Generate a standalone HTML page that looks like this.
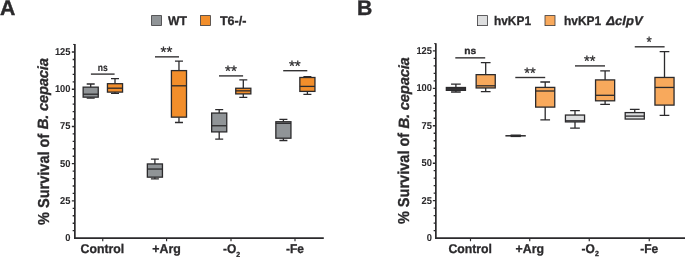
<!DOCTYPE html>
<html><head><meta charset="utf-8"><title>Figure</title>
<style>html,body{margin:0;padding:0;background:#fff}svg{display:block;will-change:transform;text-rendering:geometricPrecision}</style></head>
<body>
<svg width="685" height="257" viewBox="0 0 685 257" font-family="Liberation Sans, sans-serif" fill="#2b2a2c">
<rect width="685" height="257" fill="#fff"/>
<path d="M74.85 44.00V238.85M74.10 238.10H323.80" stroke="#2b2a2c" stroke-width="1.7" fill="none"/>
<path d="M73.05 44.45H74.85" stroke="#2b2a2c" stroke-width="0.9"/>
<path d="M72.65 230.66H74.85M72.65 223.22H74.85M72.65 215.77H74.85M72.65 208.33H74.85M71.85 200.89H74.85M72.65 193.44H74.85M72.65 186.00H74.85M72.65 178.56H74.85M72.65 171.12H74.85M71.85 163.68H74.85M72.65 156.23H74.85M72.65 148.79H74.85M72.65 141.35H74.85M72.65 133.91H74.85M71.85 126.46H74.85M72.65 119.02H74.85M72.65 111.58H74.85M72.65 104.13H74.85M72.65 96.69H74.85M71.85 89.25H74.85M72.65 81.81H74.85M72.65 74.37H74.85M72.65 66.92H74.85M72.65 59.48H74.85M71.85 52.04H74.85" stroke="#2b2a2c" stroke-width="1.35" fill="none"/>
<path d="M102.75 238.10V241.30M166.60 238.10V241.30M231.00 238.10V241.30M295.00 238.10V241.30" stroke="#2b2a2c" stroke-width="1.15" fill="none"/>
<text x="54.90" y="54.89" font-size="10" font-weight="bold" stroke="#2b2a2c" stroke-width="0.05" textLength="15.60" lengthAdjust="spacingAndGlyphs">125</text>
<text x="54.90" y="92.10" font-size="10" font-weight="bold" stroke="#2b2a2c" stroke-width="0.05" textLength="15.60" lengthAdjust="spacingAndGlyphs">100</text>
<text x="60.10" y="129.31" font-size="10" font-weight="bold" stroke="#2b2a2c" stroke-width="0.05" textLength="10.40" lengthAdjust="spacingAndGlyphs">75</text>
<text x="60.10" y="166.53" font-size="10" font-weight="bold" stroke="#2b2a2c" stroke-width="0.05" textLength="10.40" lengthAdjust="spacingAndGlyphs">50</text>
<text x="60.10" y="203.74" font-size="10" font-weight="bold" stroke="#2b2a2c" stroke-width="0.05" textLength="10.40" lengthAdjust="spacingAndGlyphs">25</text>
<text x="65.30" y="240.95" font-size="10" font-weight="bold" stroke="#2b2a2c" stroke-width="0.05" textLength="5.20" lengthAdjust="spacingAndGlyphs">0</text>
<path d="M90.70 84.00V87.15M86.70 84.00H94.70M90.70 97.15V98.20M86.70 98.20H94.70" stroke="#2b2a2c" stroke-width="1.3" fill="none"/>
<rect x="83.15" y="87.15" width="15.10" height="10.00" fill="#909497" stroke="#2b2a2c" stroke-width="1.3"/>
<path d="M83.15 94.20H98.25" stroke="#2b2a2c" stroke-width="1.3" fill="none"/>
<path d="M115.00 78.60V83.70M111.00 78.60H119.00M115.00 92.10V93.40M111.00 93.40H119.00" stroke="#2b2a2c" stroke-width="1.3" fill="none"/>
<rect x="107.45" y="83.70" width="15.10" height="8.40" fill="#f28e2b" stroke="#2b2a2c" stroke-width="1.3"/>
<path d="M107.45 88.20H122.55" stroke="#2b2a2c" stroke-width="1.3" fill="none"/>
<path d="M154.90 159.10V163.95M150.90 159.10H158.90M154.90 177.15V178.90M150.90 178.90H158.90" stroke="#2b2a2c" stroke-width="1.3" fill="none"/>
<rect x="147.35" y="163.95" width="15.10" height="13.20" fill="#909497" stroke="#2b2a2c" stroke-width="1.3"/>
<path d="M147.35 169.05H162.45" stroke="#2b2a2c" stroke-width="1.3" fill="none"/>
<path d="M178.97 61.10V70.60M174.97 61.10H182.97M178.97 117.15V122.50M174.97 122.50H182.97" stroke="#2b2a2c" stroke-width="1.3" fill="none"/>
<rect x="171.42" y="70.60" width="15.10" height="46.55" fill="#f28e2b" stroke="#2b2a2c" stroke-width="1.3"/>
<path d="M171.42 85.80H186.52" stroke="#2b2a2c" stroke-width="1.3" fill="none"/>
<path d="M219.20 109.60V113.05M215.20 109.60H223.20M219.20 131.90V139.05M215.20 139.05H223.20" stroke="#2b2a2c" stroke-width="1.3" fill="none"/>
<rect x="211.65" y="113.05" width="15.10" height="18.85" fill="#909497" stroke="#2b2a2c" stroke-width="1.3"/>
<path d="M211.65 125.75H226.75" stroke="#2b2a2c" stroke-width="1.3" fill="none"/>
<path d="M243.30 79.96V88.25M239.30 79.96H247.30M243.30 93.90V97.30M239.30 97.30H247.30" stroke="#2b2a2c" stroke-width="1.3" fill="none"/>
<rect x="235.75" y="88.25" width="15.10" height="5.65" fill="#f28e2b" stroke="#2b2a2c" stroke-width="1.3"/>
<path d="M235.75 90.85H250.85" stroke="#2b2a2c" stroke-width="1.3" fill="none"/>
<path d="M283.40 119.45V121.75M279.40 119.45H287.40M283.40 138.20V140.50M279.40 140.50H287.40" stroke="#2b2a2c" stroke-width="1.3" fill="none"/>
<rect x="275.85" y="121.75" width="15.10" height="16.45" fill="#909497" stroke="#2b2a2c" stroke-width="1.3"/>
<path d="M275.85 123.30H290.95" stroke="#2b2a2c" stroke-width="1.3" fill="none"/>
<path d="M307.40 76.60V77.50M303.40 76.60H311.40M307.40 91.40V94.40M303.40 94.40H311.40" stroke="#2b2a2c" stroke-width="1.3" fill="none"/>
<rect x="299.85" y="77.50" width="15.10" height="13.90" fill="#f28e2b" stroke="#2b2a2c" stroke-width="1.3"/>
<path d="M299.85 86.40H314.95" stroke="#2b2a2c" stroke-width="1.3" fill="none"/>
<text x="97.70" y="71.00" font-size="10" textLength="10.00" lengthAdjust="spacingAndGlyphs" stroke="#2b2a2c" stroke-width="0.15" font-weight="bold">ns</text><path d="M90.90 74.10H114.60" stroke="#333233" stroke-width="1.4"/>
<text x="160.50" y="57.20" font-size="15" textLength="11.80" lengthAdjust="spacingAndGlyphs" stroke="#2b2a2c" stroke-width="0.25">**</text><path d="M155.00 56.85H179.00" stroke="#333233" stroke-width="1.4"/>
<text x="225.00" y="76.20" font-size="15" textLength="11.80" lengthAdjust="spacingAndGlyphs" stroke="#2b2a2c" stroke-width="0.25">**</text><path d="M219.00 75.90H243.10" stroke="#333233" stroke-width="1.4"/>
<text x="288.90" y="71.20" font-size="15" textLength="11.80" lengthAdjust="spacingAndGlyphs" stroke="#2b2a2c" stroke-width="0.25">**</text><path d="M283.20 70.70H307.30" stroke="#333233" stroke-width="1.4"/>
<text x="80.60" y="252.90" font-size="12.7" font-weight="bold" stroke="#2b2a2c" stroke-width="0.3" textLength="43.60" lengthAdjust="spacingAndGlyphs">Control</text>
<text x="152.30" y="252.90" font-size="12.7" font-weight="bold" stroke="#2b2a2c" stroke-width="0.3" textLength="28.50" lengthAdjust="spacingAndGlyphs">+Arg</text>
<text x="222.9" y="252.9" font-size="12.7" font-weight="bold" stroke="#2b2a2c" stroke-width="0.3" textLength="17.2" lengthAdjust="spacingAndGlyphs">-O<tspan font-size="7.4" dy="3.9">2</tspan></text>
<text x="286.00" y="252.90" font-size="12.7" font-weight="bold" stroke="#2b2a2c" stroke-width="0.3" textLength="18.00" lengthAdjust="spacingAndGlyphs">-Fe</text>
<text transform="translate(48.5,225.0) rotate(-90)" font-size="15.8" font-weight="bold" stroke="#2b2a2c" stroke-width="0.3" textLength="91.3" lengthAdjust="spacingAndGlyphs">% Survival of</text><text transform="translate(48.3,129.30) rotate(-90)" font-size="14.8" font-weight="bold" font-style="italic" stroke="#2b2a2c" stroke-width="0.3" textLength="71.2" lengthAdjust="spacing">B. cepacia</text>
<rect x="151.6" y="15.6" width="9.9" height="9.9" fill="#909497" stroke="#3a393b" stroke-width="0.8"/>
<text x="168.10" y="25.05" font-size="12.6" font-weight="bold" stroke="#2b2a2c" stroke-width="0.3" textLength="19.00" lengthAdjust="spacingAndGlyphs">WT</text>
<rect x="200.5" y="15.6" width="9.9" height="9.9" fill="#f28e2b" stroke="#3a393b" stroke-width="0.8"/>
<text x="219.90" y="25.05" font-size="12.6" font-weight="bold" stroke="#2b2a2c" stroke-width="0.3" textLength="26.50" lengthAdjust="spacingAndGlyphs">T6-/-</text>
<text x="0.00" y="15.00" font-size="21.2" font-weight="bold" stroke="#2b2a2c" stroke-width="0.45">A</text>
<path d="M435.85 43.20V238.85M435.10 238.10H685.00" stroke="#2b2a2c" stroke-width="1.7" fill="none"/>
<path d="M434.05 43.65H435.85" stroke="#2b2a2c" stroke-width="0.9"/>
<path d="M433.65 230.61H435.85M433.65 223.12H435.85M433.65 215.63H435.85M433.65 208.14H435.85M432.85 200.65H435.85M433.65 193.16H435.85M433.65 185.67H435.85M433.65 178.18H435.85M433.65 170.69H435.85M432.85 163.20H435.85M433.65 155.71H435.85M433.65 148.22H435.85M433.65 140.73H435.85M433.65 133.24H435.85M432.85 125.75H435.85M433.65 118.26H435.85M433.65 110.77H435.85M433.65 103.28H435.85M433.65 95.79H435.85M432.85 88.30H435.85M433.65 80.81H435.85M433.65 73.32H435.85M433.65 65.83H435.85M433.65 58.34H435.85M432.85 50.85H435.85" stroke="#2b2a2c" stroke-width="1.35" fill="none"/>
<path d="M470.50 238.10V241.30M529.75 238.10V241.30M589.25 238.10V241.30M649.25 238.10V241.30" stroke="#2b2a2c" stroke-width="1.15" fill="none"/>
<text x="416.40" y="53.95" font-size="10" font-weight="bold" stroke="#2b2a2c" stroke-width="0.05" textLength="15.60" lengthAdjust="spacingAndGlyphs">125</text>
<text x="416.40" y="91.40" font-size="10" font-weight="bold" stroke="#2b2a2c" stroke-width="0.05" textLength="15.60" lengthAdjust="spacingAndGlyphs">100</text>
<text x="421.60" y="128.85" font-size="10" font-weight="bold" stroke="#2b2a2c" stroke-width="0.05" textLength="10.40" lengthAdjust="spacingAndGlyphs">75</text>
<text x="421.60" y="166.30" font-size="10" font-weight="bold" stroke="#2b2a2c" stroke-width="0.05" textLength="10.40" lengthAdjust="spacingAndGlyphs">50</text>
<text x="421.60" y="203.75" font-size="10" font-weight="bold" stroke="#2b2a2c" stroke-width="0.05" textLength="10.40" lengthAdjust="spacingAndGlyphs">25</text>
<text x="426.80" y="241.20" font-size="10" font-weight="bold" stroke="#2b2a2c" stroke-width="0.05" textLength="5.20" lengthAdjust="spacingAndGlyphs">0</text>
<path d="M455.90 84.20V87.50M451.05 84.20H460.75M455.90 90.35V92.00M451.05 92.00H460.75" stroke="#2b2a2c" stroke-width="1.3" fill="none"/>
<rect x="446.35" y="87.50" width="19.10" height="2.85" fill="#454446" stroke="#2b2a2c" stroke-width="1.3"/>
<path d="M446.35 88.90H465.45" stroke="#2b2a2c" stroke-width="1.3" fill="none"/>
<path d="M485.70 62.70V74.65M480.85 62.70H490.55M485.70 87.95V91.70M480.85 91.70H490.55" stroke="#2b2a2c" stroke-width="1.3" fill="none"/>
<rect x="476.15" y="74.65" width="19.10" height="13.30" fill="#f8a95c" stroke="#2b2a2c" stroke-width="1.3"/>
<path d="M476.15 85.80H495.25" stroke="#2b2a2c" stroke-width="1.3" fill="none"/>
<path d="M545.20 82.00V87.40M540.35 82.00H550.05M545.20 107.10V119.85M540.35 119.85H550.05" stroke="#2b2a2c" stroke-width="1.3" fill="none"/>
<rect x="535.65" y="87.40" width="19.10" height="19.70" fill="#f8a95c" stroke="#2b2a2c" stroke-width="1.3"/>
<path d="M535.65 91.00H554.75" stroke="#2b2a2c" stroke-width="1.3" fill="none"/>
<path d="M575.00 110.70V115.05M570.15 110.70H579.85M575.00 121.90V128.20M570.15 128.20H579.85" stroke="#2b2a2c" stroke-width="1.3" fill="none"/>
<rect x="565.45" y="115.05" width="19.10" height="6.85" fill="#dddedf" stroke="#2b2a2c" stroke-width="1.3"/>
<path d="M565.45 120.80H584.55" stroke="#2b2a2c" stroke-width="1.3" fill="none"/>
<path d="M605.10 70.95V79.90M600.25 70.95H609.95M605.10 100.80V104.35M600.25 104.35H609.95" stroke="#2b2a2c" stroke-width="1.3" fill="none"/>
<rect x="595.55" y="79.90" width="19.10" height="20.90" fill="#f8a95c" stroke="#2b2a2c" stroke-width="1.3"/>
<path d="M595.55 95.30H614.65" stroke="#2b2a2c" stroke-width="1.3" fill="none"/>
<path d="M634.75 109.45V112.60M629.90 109.45H639.60" stroke="#2b2a2c" stroke-width="1.3" fill="none"/>
<rect x="625.20" y="112.60" width="19.10" height="6.45" fill="#dddedf" stroke="#2b2a2c" stroke-width="1.3"/>
<path d="M625.20 116.10H644.30" stroke="#2b2a2c" stroke-width="1.3" fill="none"/>
<path d="M664.50 51.70V77.45M659.65 51.70H669.35M664.50 105.10V115.40M659.65 115.40H669.35" stroke="#2b2a2c" stroke-width="1.3" fill="none"/>
<rect x="654.95" y="77.45" width="19.10" height="27.65" fill="#f8a95c" stroke="#2b2a2c" stroke-width="1.3"/>
<path d="M654.95 87.45H674.05" stroke="#2b2a2c" stroke-width="1.3" fill="none"/>
<path d="M505.4 135.8H525.8" stroke="#2b2a2c" stroke-width="1.5"/><path d="M510.6 135.8H520.9" stroke="#2b2a2c" stroke-width="2.6"/>
<text x="464.20" y="54.00" font-size="9.8" textLength="11.90" lengthAdjust="spacingAndGlyphs" stroke="#2b2a2c" stroke-width="0.3" font-weight="bold">ns</text><path d="M455.30 57.85H485.20" stroke="#333233" stroke-width="1.4"/>
<text x="524.20" y="77.60" font-size="15" textLength="11.40" lengthAdjust="spacingAndGlyphs" stroke="#2b2a2c" stroke-width="0.25">**</text><path d="M515.30 77.50H545.20" stroke="#333233" stroke-width="1.4"/>
<text x="584.00" y="65.60" font-size="15" textLength="11.40" lengthAdjust="spacingAndGlyphs" stroke="#2b2a2c" stroke-width="0.25">**</text><path d="M575.00 65.90H605.00" stroke="#333233" stroke-width="1.4"/>
<text x="646.40" y="47.30" font-size="15" textLength="5.20" lengthAdjust="spacingAndGlyphs" stroke="#2b2a2c" stroke-width="0.25">*</text><path d="M634.75 46.80H664.60" stroke="#333233" stroke-width="1.4"/>
<text x="448.40" y="252.50" font-size="12.7" font-weight="bold" stroke="#2b2a2c" stroke-width="0.3" textLength="43.60" lengthAdjust="spacingAndGlyphs">Control</text>
<text x="515.60" y="252.50" font-size="12.7" font-weight="bold" stroke="#2b2a2c" stroke-width="0.3" textLength="28.40" lengthAdjust="spacingAndGlyphs">+Arg</text>
<text x="581.6" y="252.5" font-size="12.7" font-weight="bold" stroke="#2b2a2c" stroke-width="0.3" textLength="17.2" lengthAdjust="spacingAndGlyphs">-O<tspan font-size="7.4" dy="3.9">2</tspan></text>
<text x="640.20" y="252.50" font-size="12.7" font-weight="bold" stroke="#2b2a2c" stroke-width="0.3" textLength="18.00" lengthAdjust="spacingAndGlyphs">-Fe</text>
<text transform="translate(409.1,224.1) rotate(-90)" font-size="15.8" font-weight="bold" stroke="#2b2a2c" stroke-width="0.3" textLength="91.3" lengthAdjust="spacingAndGlyphs">% Survival of</text><text transform="translate(408.90000000000003,128.40) rotate(-90)" font-size="14.8" font-weight="bold" font-style="italic" stroke="#2b2a2c" stroke-width="0.3" textLength="71.2" lengthAdjust="spacing">B. cepacia</text>
<rect x="477.4" y="15.6" width="10" height="10" fill="#dddedf" stroke="#3a393b" stroke-width="0.8"/>
<text x="494.00" y="25.05" font-size="12.6" font-weight="bold" stroke="#2b2a2c" stroke-width="0.3" textLength="37.00" lengthAdjust="spacingAndGlyphs">hvKP1</text>
<rect x="545" y="15.6" width="10" height="10" fill="#f8a95c" stroke="#3a393b" stroke-width="0.8"/>
<text x="564.00" y="25.05" font-size="12.6" font-weight="bold" stroke="#2b2a2c" stroke-width="0.3" textLength="37.20" lengthAdjust="spacingAndGlyphs">hvKP1</text>
<text x="606.3" y="25.05" font-size="12.6" font-weight="bold" font-style="italic" stroke="#2b2a2c" stroke-width="0.3" textLength="36.3" lengthAdjust="spacingAndGlyphs">ΔclpV</text>
<text x="357.10" y="15.00" font-size="21.2" font-weight="bold" stroke="#2b2a2c" stroke-width="0.4">B</text>
</svg>
</body></html>
